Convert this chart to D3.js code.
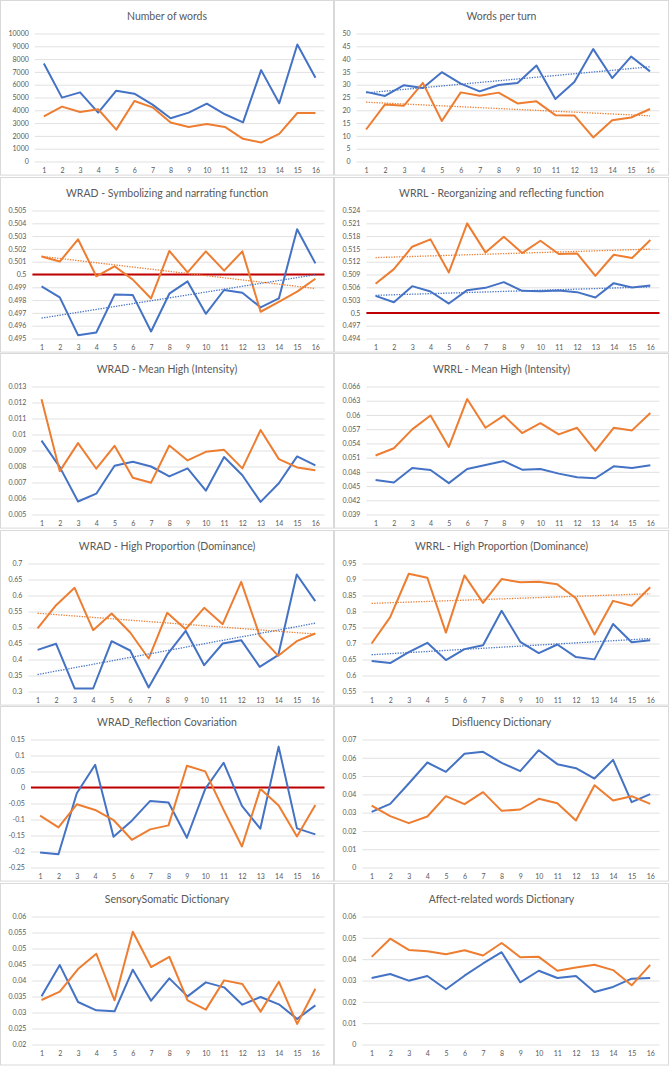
<!DOCTYPE html>
<html lang="en">
<head>
<meta charset="UTF-8">
<title>Session measures</title>
<style>
body{margin:0;background:#fff;}
svg{display:block;font-family:Lato,"Open Sans",sans-serif;}
</style>
</head>
<body>
<div class="chart"></div>
<script src="https://d3js.org/d3.v7.min.js"></script>
<script>
// sessions on the x axis
var categories = [1,2,3,4,5,6,7,8,9,10,11,12,13,14,15,16];

// values (blue / orange series)
var wordsBlue   = [7660,4990,5400,3820,5530,5300,4440,3380,3820,4520,3690,3060,7140,4545,9140,6550];
var wordsOrange = [3530,4290,3870,4080,2490,4730,4230,3040,2700,2935,2700,1770,1480,2160,3790,3790];
var wordsTicks  = [0,1000,2000,3000,4000,5000,6000,7000,8000,9000,10000];

var turnBlue   = [27.2,25.6,29.8,28.7,34.9,30.4,27.4,29.9,30.7,37.5,24.4,31.1,43.9,32.6,41.0,35.2];
var turnOrange = [12.5,22.3,21.8,30.7,15.8,27.0,25.7,26.9,22.7,23.5,18.1,18.0,9.4,16.1,17.2,20.5];
var turnTicks  = [0,5,10,15,20,25,30,35,40,45,50];

var wradSymBlue   = [0.49907,0.49821,0.49526,0.49547,0.49843,0.49839,0.49555,0.4985,0.49946,0.49693,0.49879,0.49858,0.49743,0.49813,0.50354,0.50087];
var wradSymOrange = [0.5014,0.50101,0.50275,0.49986,0.50064,0.4996,0.49813,0.50184,0.50017,0.50181,0.5003,0.50181,0.49709,0.49787,0.49866,0.49967];
var wradSymTicks  = [0.495,0.496,0.497,0.498,0.499,0.5,0.501,0.502,0.503,0.504,0.505];

var wrrlReoBlue   = [0.504,0.50251,0.50627,0.50501,0.50219,0.50533,0.50587,0.50721,0.50517,0.50509,0.50525,0.50486,0.5036,0.50697,0.50595,0.50642];
var wrrlReoOrange = [0.50681,0.51026,0.51551,0.51723,0.50948,0.52099,0.51418,0.51786,0.51402,0.51692,0.51379,0.51394,0.50869,0.51363,0.51285,0.51708];
var wrrlReoTicks  = [0.494,0.497,0.5,0.503,0.506,0.509,0.512,0.515,0.518,0.521,0.524];

var wradMeanBlue   = [0.00962,0.00796,0.00581,0.0063,0.00805,0.0083,0.008,0.00738,0.00788,0.00649,0.00859,0.00745,0.00579,0.00695,0.00863,0.00807];
var wradMeanOrange = [0.01221,0.00771,0.00946,0.00786,0.00929,0.0073,0.00699,0.00931,0.00838,0.00892,0.00904,0.00788,0.01028,0.00846,0.00794,0.00776];
var wradMeanTicks  = [0.005,0.006,0.007,0.008,0.009,0.01,0.011,0.012,0.013];

var wrrlMeanBlue   = [0.0463,0.04575,0.04881,0.04839,0.04561,0.0486,0.04943,0.05027,0.04846,0.0486,0.04762,0.04686,0.04665,0.04916,0.04881,0.04937];
var wrrlMeanOrange = [0.05145,0.05298,0.05695,0.05987,0.05326,0.06335,0.05729,0.05987,0.05618,0.05827,0.0559,0.05729,0.05243,0.05729,0.05674,0.06043];
var wrrlMeanTicks  = [0.039,0.042,0.045,0.048,0.051,0.054,0.057,0.06,0.063,0.066];

var wradPropBlue   = [0.4302,0.449,0.3094,0.3094,0.4573,0.4281,0.3125,0.415,0.4896,0.3823,0.45,0.4604,0.3771,0.4135,0.6656,0.5823];
var wradPropOrange = [0.4969,0.5698,0.624,0.4917,0.5438,0.4844,0.4031,0.5458,0.4948,0.5615,0.5104,0.6427,0.474,0.4115,0.4573,0.4813];
var wradPropTicks  = [0.3,0.35,0.4,0.45,0.5,0.55,0.6,0.65,0.7];

var wrrlPropBlue   = [0.6452,0.639,0.6731,0.7021,0.6483,0.6824,0.6948,0.8023,0.7052,0.67,0.6969,0.6576,0.6504,0.761,0.7041,0.7103];
var wrrlPropOrange = [0.7,0.7826,0.918,0.9056,0.7341,0.9128,0.8271,0.9014,0.8911,0.8932,0.8849,0.8415,0.7279,0.8333,0.8178,0.8756];
var wrrlPropTicks  = [0.55,0.6,0.65,0.7,0.75,0.8,0.85,0.9,0.95];

var covarBlue   = [-0.2031,-0.2084,-0.0178,0.0712,-0.1539,-0.1037,-0.0419,-0.0471,-0.1571,-0.0042,0.0775,-0.0576,-0.1288,0.1277,-0.1277,-0.1466];
var covarOrange = [-0.088,-0.1246,-0.0524,-0.0702,-0.1016,-0.1634,-0.1309,-0.1183,0.0681,0.0503,-0.0700,-0.1843,-0.0042,-0.0565,-0.1529,-0.0545];
var covarTicks  = [-0.25,-0.2,-0.15,-0.1,-0.05,0,0.05,0.1,0.15];

var disfBlue   = [0.03044,0.03482,0.04594,0.05742,0.05232,0.06216,0.06325,0.05724,0.05268,0.06416,0.05651,0.05432,0.04867,0.05888,0.03573,0.0401];
var disfOrange = [0.0339,0.02807,0.02424,0.02789,0.03901,0.03463,0.0412,0.03099,0.03172,0.03755,0.03518,0.0257,0.04502,0.03664,0.03901,0.03482];
var disfTicks  = [0,0.01,0.02,0.03,0.04,0.05,0.06,0.07];

var sensBlue   = [0.03505,0.04482,0.03329,0.03069,0.03037,0.04337,0.0337,0.04067,0.03505,0.03942,0.03786,0.03245,0.03484,0.03256,0.02798,0.03224];
var sensOrange = [0.03391,0.03651,0.04358,0.04836,0.0338,0.05522,0.0442,0.04742,0.0338,0.03089,0.04004,0.0389,0.03027,0.03962,0.02642,0.03744];
var sensTicks  = [0.02,0.025,0.03,0.035,0.04,0.045,0.05,0.055,0.06];

var affBlue   = [0.03116,0.03302,0.02992,0.03209,0.02589,0.03225,0.03798,0.04326,0.02915,0.03457,0.03116,0.03209,0.02465,0.02698,0.03085,0.03116];
var affOrange = [0.04109,0.04961,0.04434,0.04372,0.04233,0.04419,0.0417,0.0476,0.04093,0.04109,0.03457,0.03612,0.03736,0.03488,0.02775,0.03736];
var affTicks  = [0,0.01,0.02,0.03,0.04,0.05,0.06];

var titles = ['Number of words','Words per turn',
	'WRAD - Symbolizing and narrating function','WRRL - Reorganizing and reflecting function',
	'WRAD - Mean High (Intensity)','WRRL - Mean High (Intensity)',
	'WRAD - High Proportion (Dominance)','WRRL - High Proportion (Dominance)',
	'WRAD_Reflection Covariation','Disfluency Dictionary',
	'SensorySomatic Dictionary','Affect-related words Dictionary'];

var panels = [
	{blue:wordsBlue, orange:wordsOrange, ticks:wordsTicks},
	{blue:turnBlue, orange:turnOrange, ticks:turnTicks, trend:true},
	{blue:wradSymBlue, orange:wradSymOrange, ticks:wradSymTicks, trend:true, ref:0.5},
	{blue:wrrlReoBlue, orange:wrrlReoOrange, ticks:wrrlReoTicks, trend:true, ref:0.5},
	{blue:wradMeanBlue, orange:wradMeanOrange, ticks:wradMeanTicks},
	{blue:wrrlMeanBlue, orange:wrrlMeanOrange, ticks:wrrlMeanTicks},
	{blue:wradPropBlue, orange:wradPropOrange, ticks:wradPropTicks, trend:true},
	{blue:wrrlPropBlue, orange:wrrlPropOrange, ticks:wrrlPropTicks, trend:true},
	{blue:covarBlue, orange:covarOrange, ticks:covarTicks, ref:0},
	{blue:disfBlue, orange:disfOrange, ticks:disfTicks},
	{blue:sensBlue, orange:sensOrange, ticks:sensTicks},
	{blue:affBlue, orange:affOrange, ticks:affTicks}
];

var W = 670, H = 1066;
var blue = '#4472c4', orange = '#ed7d31', red = '#c00000';
var colX = [0.5, 334.5], colW = [333, 334];
var rowH = 176.6;

var svg = d3.select('.chart').append('svg')
	.attr('width', W).attr('height', H);

var fmt = function(v){ return String(+v.toFixed(4)); };

// least squares line, x = 1..16
function fit(vals){
	var xs = categories;
	var mx = d3.mean(xs), my = d3.mean(vals);
	var sxy = d3.sum(xs, function(x,i){ return (x-mx)*(vals[i]-my); });
	var sxx = d3.sum(xs, function(x){ return (x-mx)*(x-mx); });
	var b = sxy/sxx;
	return function(x){ return my + b*(x-mx); };
}

panels.forEach(function(p, i){
	var col = i % 2, row = Math.floor(i/2);
	var px = colX[col], py = Math.round(row*rowH) + 0.5;
	var pw = colW[col], ph = (row == 5 ? H - 1 - py : rowH - 2);

	var g = svg.append('g').attr('transform', `translate(${px},${py})`);
	g.append('rect').attr('width', pw).attr('height', ph)
		.style('fill','#fff').style('stroke','#d9d9d9');

	g.append('text')
		.attr('x', pw/2).attr('y', 19.5)
		.attr('text-anchor','middle')
		.style('font-size','10.5px').style('fill','#595959')
		.text(titles[i]);

	// measure widest tick label to place the plot area
	var probe = g.append('g').style('font-size','7px');
	var lw = 0;
	p.ticks.forEach(function(t){
		var tx = probe.append('text').text(fmt(t));
		lw = Math.max(lw, tx.node().getBBox().width);
	});
	probe.remove();

	var left = 8 + lw + 6, right = pw - 9;
	var top = 33, bottom = 161;

	var x = d3.scalePoint().domain(categories).range([left, right]).padding(0.5);
	var y = d3.scaleLinear().domain(d3.extent(p.ticks)).range([bottom, top]);

	var yAxis = d3.axisLeft(y).tickValues(p.ticks).tickFormat(fmt)
		.tickSize(-(right-left)).tickPadding(6);
	var ya = g.append('g').attr('transform', `translate(${left},0)`).call(yAxis);
	ya.select('.domain').remove();
	ya.selectAll('line').style('stroke','#d9d9d9').style('stroke-width',0.8);
	ya.selectAll('text').style('fill','#595959').style('font-size','7px')
		.style('font-family','Lato,"Open Sans",sans-serif');

	var xAxis = d3.axisBottom(x).tickSize(0).tickPadding(7);
	var xa = g.append('g').attr('transform', `translate(0,${bottom})`).call(xAxis);
	xa.select('.domain').remove();
	xa.selectAll('text').style('fill','#595959').style('font-size','7px')
		.style('font-family','Lato,"Open Sans",sans-serif');

	if (p.ref !== undefined) {
		g.append('line')
			.attr('x1', left).attr('x2', right)
			.attr('y1', y(p.ref)).attr('y2', y(p.ref))
			.style('stroke', red).style('stroke-width', 2);
	}

	var line = d3.line()
		.x(function(d,j){ return x(categories[j]); })
		.y(function(d){ return y(d); });

	[[p.blue, blue], [p.orange, orange]].forEach(function(s){
		g.append('path').datum(s[0]).attr('d', line)
			.style('fill','none').style('stroke', s[1])
			.style('stroke-width', 2).style('stroke-linejoin','round');
	});

	if (p.trend) {
		[[p.blue, blue], [p.orange, orange]].forEach(function(s){
			var f = fit(s[0]);
			var a = categories[0], b = categories[categories.length-1];
			g.append('line')
				.attr('x1', x(a)).attr('x2', x(b))
				.attr('y1', y(f(a))).attr('y2', y(f(b)))
				.style('stroke', s[1]).style('stroke-width', 1.3)
				.style('stroke-dasharray','1.3,1.3');
		});
	}
});
</script>
</body>
</html>
